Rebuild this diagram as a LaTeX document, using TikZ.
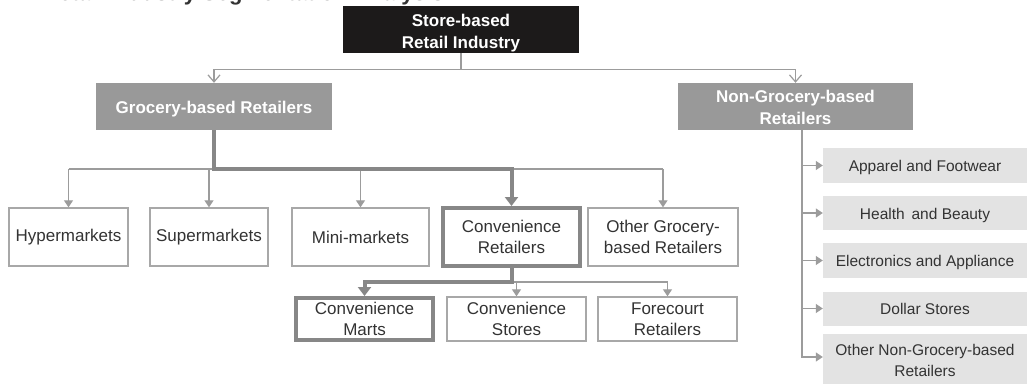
\documentclass[tikz,border=0pt]{standalone}
\usepackage{fontspec}
\setmainfont{Liberation Sans}
\usetikzlibrary{arrows.meta}

\definecolor{rootblack}{HTML}{1C1A1A}
\definecolor{catgray}{HTML}{999999}
\definecolor{sidefill}{HTML}{E3E3E3}
\definecolor{boxline}{HTML}{A8A8A8}
\definecolor{linegray}{HTML}{9C9C9C}
\definecolor{heavygray}{HTML}{878787}
\definecolor{txt}{HTML}{333333}

% set a (possibly multi-line) label a little lower without changing its box
\newcommand\lowered[2]{\raisebox{-#1}[\height][\depth]{\begin{tabular}{@{}c@{}}#2\end{tabular}}}

\begin{document}
\begin{tikzpicture}[x=1pt,y=-1pt,
  box/.style={draw=boxline, line width=1.3pt, fill=white, text=txt, inner sep=0pt,
    align=center, font=\fontsize{17}{21}\selectfont},
  hilite/.style={box, draw=heavygray, line width=4pt},
  rootbox/.style={fill=rootblack, text=white, inner sep=0pt, align=center,
    font=\bfseries\fontsize{17}{22}\selectfont},
  catbox/.style={fill=catgray, text=white, inner sep=0pt, align=center,
    font=\bfseries\fontsize{17}{22}\selectfont},
  sidebox/.style={fill=sidefill, text=txt, inner sep=0pt, align=center,
    minimum width=204pt, font=\fontsize{15.5}{21}\selectfont},
  link/.style={draw=linegray, line width=1.2pt},
  barb/.style={link, -{Straight Barb[length=7pt,width=12pt]}},
  tip/.style={link, -{Triangle[length=7pt,width=9pt]}},
  heavy/.style={draw=heavygray, line width=4pt},
  heavytip/.style={heavy, -{Triangle[length=9pt,width=13pt]}}
]
\useasboundingbox (0,0) rectangle (1027,383);
\clip (0,0) rectangle (1027,383);

% heading, cut by the top edge
\node[anchor=base west, inner sep=0pt, text=txt,
  font=\bfseries\fontsize{22}{26}\selectfont] (title) at (43,0.5)
  {Retail Industry Segmentation Analysis};

% top levels
\node[rootbox, minimum width=236pt, minimum height=47pt] (root) at (461,29.5)
  {\lowered{4pt}{Store-based\\Retail Industry}};
\node[catbox, minimum width=236pt, minimum height=47pt] (groc) at (214,106.5)
  {\lowered{3pt}{Grocery-based Retailers}};
\node[catbox, minimum width=235pt, minimum height=47pt] (nongroc) at (795.5,106.5)
  {\lowered{3pt}{Non-Grocery-based\\Retailers}};

% grocery formats
\node[box, minimum width=119pt, minimum height=58pt] (hyper) at (68.5,237) {Hypermarkets};
\node[box, minimum width=118pt, minimum height=58pt] (super) at (209,237) {Supermarkets};
\node[box, minimum width=137pt, minimum height=58pt] (mini) at (360.5,237) {Mini-markets};
\node[hilite, minimum width=137pt, minimum height=58pt] (convret) at (511.5,237)
  {Convenience\\Retailers};
\node[box, minimum width=150pt, minimum height=58pt] (othergroc) at (663,237)
  {Other Grocery-\\based Retailers};

% convenience formats
\node[hilite, minimum width=137pt, minimum height=42pt] (marts) at (364.5,319)
  {Convenience\\Marts};
\node[box, minimum width=139pt, minimum height=44pt] (cstores) at (516.5,319)
  {Convenience\\Stores};
\node[box, minimum width=139pt, minimum height=44pt] (forecourt) at (667.5,319)
  {Forecourt\\Retailers};

% non-grocery formats
\node[sidebox, minimum height=35pt] (apparel) at (925,165.5) {\lowered{2pt}{Apparel and Footwear}};
\node[sidebox, minimum height=34pt] (health) at (925,213) {\lowered{2pt}{Health\, and Beauty}};
\node[sidebox, minimum height=35pt] (electro) at (925,260.5) {\lowered{2pt}{Electronics and Appliance}};
\node[sidebox, minimum height=34pt] (dollar) at (925,308.5) {\lowered{2pt}{Dollar Stores}};
\node[sidebox, minimum height=52pt] (othernon) at (925,360)
  {Other Non-Grocery-based\\Retailers};

% root to categories
\coordinate (rootbar) at ([yshift=-16pt]root.south);
\draw[link] (root.south) -- (rootbar);
\draw[barb] (rootbar) -| (groc.north);
\draw[barb] (rootbar) -| (nongroc.north);

% grocery bus
\coordinate (gbus) at (groc.south |- 0,169);
\draw[link] (hyper.north |- gbus) -- (othergroc.north |- gbus);
\foreach \n in {hyper,super,mini,othergroc}
  \draw[tip] (\n.north |- gbus) -- (\n.north);
\draw[heavytip, line join=miter] (groc.south) -- (gbus) -| (convret.north);

% convenience bus
\coordinate (cbus) at (convret.south |- 0,282);
\draw[tip] (cbus) -| (forecourt.north);
\draw[tip] (cstores.north |- cbus) -- (cstores.north);
\draw[heavytip, line join=miter] (convret.south) -- (cbus) -| (marts.north);

% non-grocery trunk
\coordinate (trunk) at ([xshift=6.5pt]nongroc.south);
\foreach \n in {apparel,health,electro,dollar}
  \draw[tip] (trunk |- \n.west) -- (\n.west);
\draw[tip] (trunk) |- ([yshift=3pt]othernon.west);
\end{tikzpicture}
\end{document}
